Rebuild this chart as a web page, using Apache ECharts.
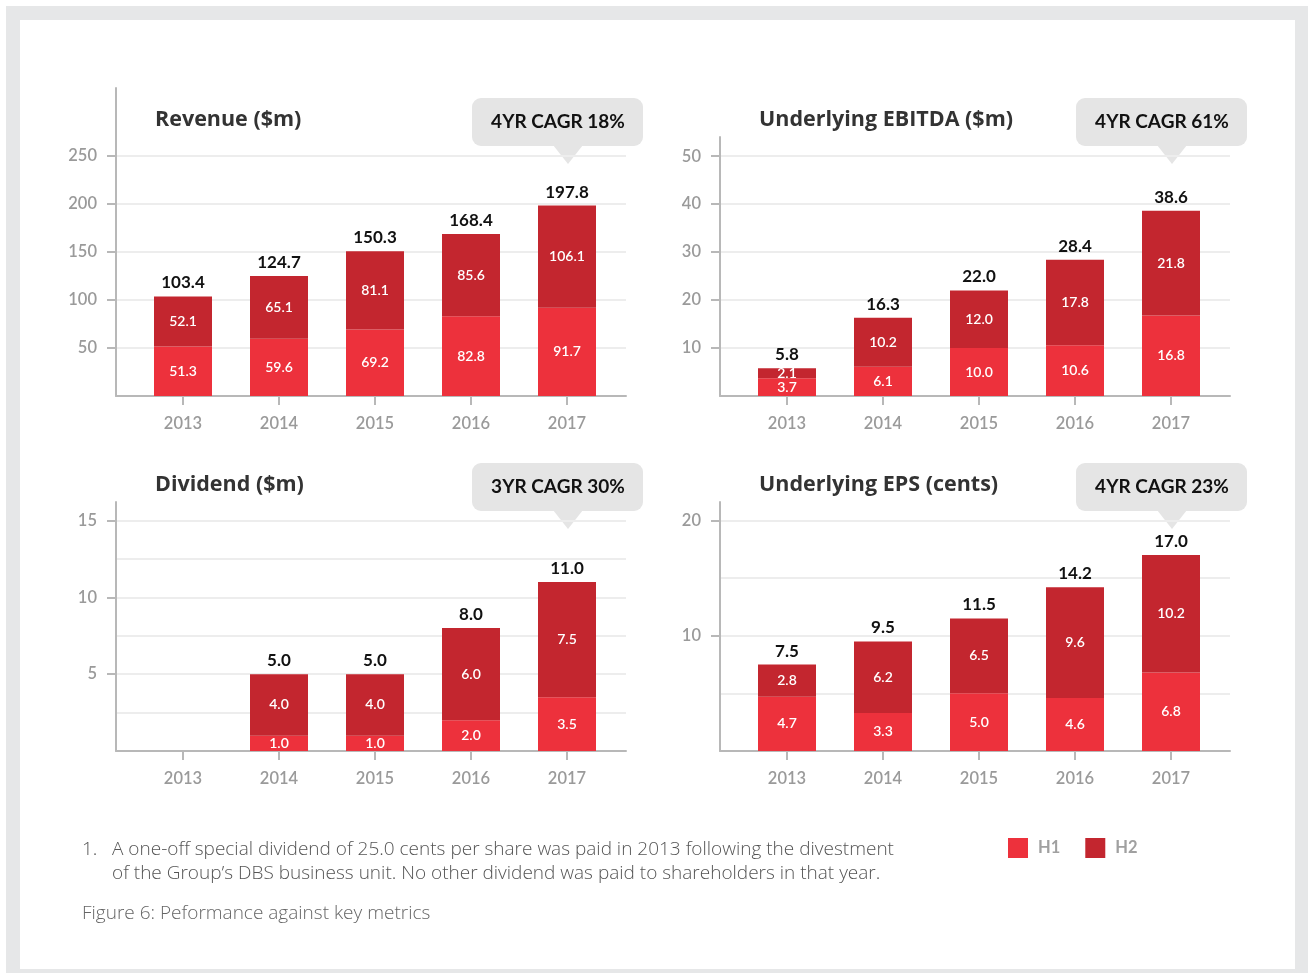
<!DOCTYPE html>
<html>
<head>
<meta charset="utf-8">
<script src="https://cdn.jsdelivr.net/npm/echarts@6/dist/echarts.min.js"></script>
<style>
html, body { margin: 0; padding: 0; background: #fff; }
#frame { position: absolute; left: 6px; top: 6px; width: 1302px; height: 967px; background: #e6e7e8; }
#card { position: absolute; left: 20px; top: 20px; width: 1275px; height: 949px; background: #fff; }
#chart { position: absolute; left: 0; top: 0; width: 1308px; height: 973px; }
</style>
</head>
<body>
<div id="frame"></div>
<div id="card"></div>
<div id="chart"></div>
<script>
const years = ['2013', '2014', '2015', '2016', '2017'];

const revenueH1 = [51.3, 59.6, 69.2, 82.8, 91.7];
const revenueH2 = [52.1, 65.1, 81.1, 85.6, 106.1];
const revenueTotal = [103.4, 124.7, 150.3, 168.4, 197.8];

const ebitdaH1 = [3.7, 6.1, 10.0, 10.6, 16.8];
const ebitdaH2 = [2.1, 10.2, 12.0, 17.8, 21.8];
const ebitdaTotal = [5.8, 16.3, 22.0, 28.4, 38.6];

const dividendH1 = [null, 1.0, 1.0, 2.0, 3.5];
const dividendH2 = [null, 4.0, 4.0, 6.0, 7.5];
const dividendTotal = [null, 5.0, 5.0, 8.0, 11.0];

const epsH1 = [4.7, 3.3, 5.0, 4.6, 6.8];
const epsH2 = [2.8, 6.2, 6.5, 9.6, 10.2];
const epsTotal = [7.5, 9.5, 11.5, 14.2, 17.0];

const revenueTicks = [50, 100, 150, 200, 250];
const ebitdaTicks = [10, 20, 30, 40, 50];
const dividendTicks = [5, 10, 15];
const epsTicks = [10, 20];

const H1_COLOR = '#ed313c';
const H2_COLOR = '#c3262f';
const AXIS_COLOR = '#b8b8b8';
const GRID_COLOR = '#ededed';
const FONT = 'Lato, "Open Sans", sans-serif';
const TEXT_FONT = '"Open Sans", Lato, sans-serif';

const panels = [
    { title: 'Revenue ($m)', cagr: '4YR CAGR 18%', h1: revenueH1, h2: revenueH2, total: revenueTotal,
      ticks: revenueTicks, max: 320, step: 50, left: 116, top: 88, bottom: 396, titleY: 119, boxY: 98 },
    { title: 'Underlying EBITDA ($m)', cagr: '4YR CAGR 61%', h1: ebitdaH1, h2: ebitdaH2, total: ebitdaTotal,
      ticks: ebitdaTicks, max: 54, step: 10, left: 720, top: 137, bottom: 396, titleY: 119, boxY: 98 },
    { title: 'Dividend ($m)', cagr: '3YR CAGR 30%', h1: dividendH1, h2: dividendH2, total: dividendTotal,
      ticks: dividendTicks, max: 16.2, step: 2.5, left: 116, top: 502, bottom: 751, titleY: 484, boxY: 463 },
    { title: 'Underlying EPS (cents)', cagr: '4YR CAGR 23%', h1: epsH1, h2: epsH2, total: epsTotal,
      ticks: epsTicks, max: 21.6, step: 5, left: 720, top: 502, bottom: 751, titleY: 484, boxY: 463 }
];

const grid = [], xAxis = [], yAxis = [], series = [], graphic = [];

panels.forEach((p, i) => {
    const h = p.bottom - p.top;
    // frame grid (axis lines, gridlines) and bar grid (categories)
    grid.push({ left: p.left, top: p.top, width: 510, height: h });
    grid.push({ left: p.left + 19, top: p.top, width: 480, height: h });

    xAxis.push({
        gridIndex: 2 * i, type: 'value', min: 0, max: 1,
        axisLine: { show: true, onZero: false, lineStyle: { color: AXIS_COLOR, width: 2 } },
        axisTick: { show: false }, axisLabel: { show: false }, splitLine: { show: false }
    });
    xAxis.push({
        gridIndex: 2 * i + 1, type: 'category', data: years,
        axisLine: { show: false },
        axisTick: { show: true, alignWithLabel: true, length: 9, lineStyle: { color: AXIS_COLOR, width: 2 } },
        axisLabel: { color: '#9a9a9a', fontSize: 16.5, fontWeight: 600, fontFamily: FONT, margin: 19 }
    });

    const lastTick = p.ticks[p.ticks.length - 1];
    const lineColors = [];
    for (let k = 0; k * p.step <= p.max + 1e-9; k++) {
        const v = k * p.step;
        lineColors.push(v > 0 && v <= lastTick + 1e-9 ? GRID_COLOR : 'rgba(0,0,0,0)');
    }
    lineColors.push('rgba(0,0,0,0)');

    yAxis.push({
        gridIndex: 2 * i, type: 'value', min: 0, max: p.max,
        axisLine: { show: true, lineStyle: { color: AXIS_COLOR, width: 2 } },
        axisTick: { show: true, length: 9, customValues: p.ticks, lineStyle: { color: AXIS_COLOR, width: 2 } },
        axisLabel: { customValues: p.ticks, color: '#9a9a9a', fontSize: 16.5, fontWeight: 600, fontFamily: FONT, margin: 19 },
        splitLine: { show: false }
    });
    yAxis.push({
        gridIndex: 2 * i, type: 'value', min: 0, max: p.max, interval: p.step,
        axisLine: { show: false }, axisTick: { show: false }, axisLabel: { show: false },
        splitLine: { show: true, lineStyle: { color: lineColors, width: 2 } }
    });
    yAxis.push({ gridIndex: 2 * i + 1, type: 'value', min: 0, max: p.max, show: false });

    const inLabel = {
        show: true, position: 'inside', color: '#fff', fontSize: 14, fontWeight: 600, fontFamily: FONT,
        formatter: d => d.value.toFixed(1)
    };
    series.push({
        type: 'bar', name: 'H1', stack: 'p' + i, xAxisIndex: 2 * i + 1, yAxisIndex: 3 * i + 2,
        data: p.h1, barWidth: 58, barGap: '-100%', itemStyle: { color: H1_COLOR }, label: inLabel, silent: true
    });
    series.push({
        type: 'bar', name: 'H2', stack: 'p' + i, xAxisIndex: 2 * i + 1, yAxisIndex: 3 * i + 2,
        data: p.h2, barWidth: 58, barGap: '-100%', itemStyle: { color: H2_COLOR }, label: inLabel, silent: true
    });
    series.push({
        type: 'bar', name: 'Total', xAxisIndex: 2 * i + 1, yAxisIndex: 3 * i + 2,
        data: p.total, barWidth: 58, barGap: '-100%', itemStyle: { color: 'rgba(0,0,0,0)' }, silent: true,
        label: {
            show: true, position: 'top', distance: 5, color: '#111', fontSize: 17, fontWeight: 700, fontFamily: FONT,
            formatter: d => d.value.toFixed(1)
        }
    });

    // panel title
    graphic.push({
        type: 'text', left: p.left + 39, top: p.titleY - 10,
        style: { text: p.title, fill: '#333', font: 'bold 21.5px ' + TEXT_FONT }
    });
    // CAGR callout
    const bx = p.left + 356, tipX = p.left + 452;
    graphic.push({
        type: 'group', left: bx, top: p.boxY,
        children: [
            { type: 'rect', shape: { x: 0, y: 0, width: 171, height: 48, r: 9 }, style: { fill: '#e5e5e5' } },
            { type: 'polygon', shape: { points: [[tipX - bx - 15, 47], [tipX - bx + 15, 47], [tipX - bx, 66]] }, style: { fill: '#e5e5e5' } },
            { type: 'text', x: 86, y: 24, style: { text: p.cagr, fill: '#111', font: 'bold 19px ' + FONT, align: 'center', verticalAlign: 'middle' } }
        ]
    });
});

graphic.push(
    { type: 'text', left: 82, top: 838, style: { text: '1.', fill: '#555', font: '300 19px ' + TEXT_FONT, lineHeight: 24 } },
    { type: 'text', left: 112, top: 838, style: {
        text: 'A one-off special dividend of 25.0 cents per share was paid in 2013 following the divestment\nof the Group\u2019s DBS business unit. No other dividend was paid to shareholders in that year.',
        fill: '#555', font: '300 19px ' + TEXT_FONT, lineHeight: 24 } },
    { type: 'text', left: 82, top: 902, style: { text: 'Figure 6: Peformance against key metrics', fill: '#666', font: '300 19px ' + TEXT_FONT, lineHeight: 24 } }
);

const myChart = echarts.init(document.getElementById('chart'));
const option = {
    animation: false,
    legend: {
        data: ['H1', 'H2'], left: 1008, top: 838, padding: 0, icon: 'rect', itemWidth: 20, itemHeight: 20, itemGap: 25,
        selectedMode: false,
        textStyle: { color: '#a0a0a0', fontSize: 16.5, fontWeight: 'bold', fontFamily: FONT, padding: [0, 0, 0, 5] }
    },
    grid: grid,
    xAxis: xAxis,
    yAxis: yAxis,
    series: series,
    graphic: graphic
};
myChart.setOption(option);
</script>
</body>
</html>
